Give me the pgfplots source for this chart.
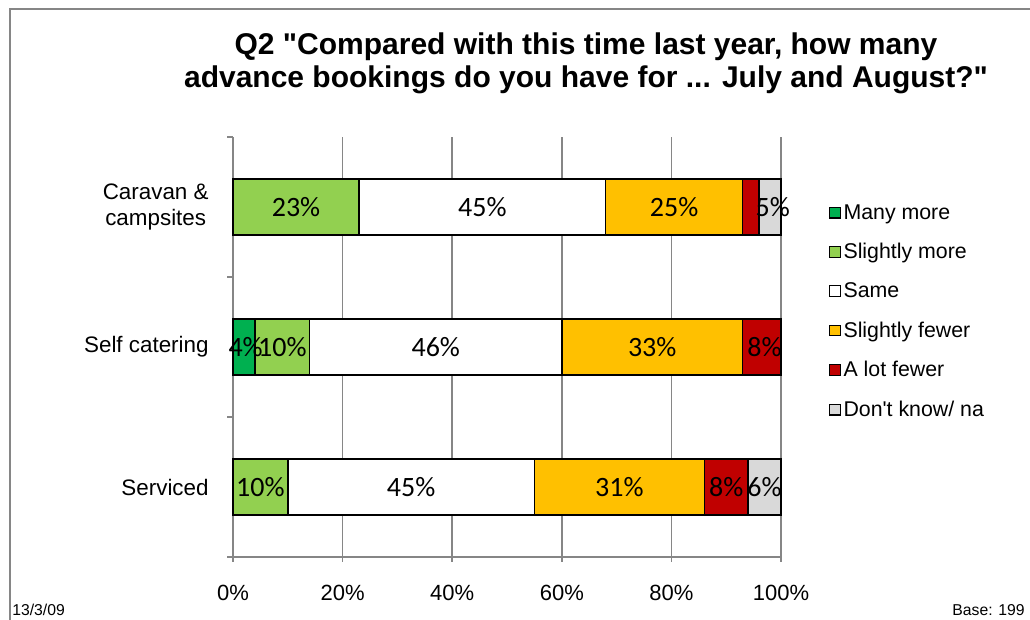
\documentclass[border=0pt]{standalone}
\usepackage{fontspec}
\setmainfont{Liberation Sans}[Ligatures=TeXOff]
\newfontfamily\calibri{Carlito}
\usepackage{pgfplots}
\pgfplotsset{compat=1.18}
\definecolor{manymore}{RGB}{0,176,80}
\definecolor{slmore}{RGB}{146,208,80}
\definecolor{slfewer}{RGB}{255,192,0}
\definecolor{lotfewer}{RGB}{192,0,0}
\definecolor{dkna}{RGB}{217,217,217}
\definecolor{axgray}{RGB}{134,134,134}
\begin{document}
\begin{tikzpicture}
\useasboundingbox (0,0) rectangle (772.5pt,465pt);
\draw[axgray, line width=1pt] (7.5pt,0) -- (7.5pt,458.25pt) -- (772.5pt,458.25pt);
\node[font=\bfseries\fontsize{22.5}{24.75}\selectfont, align=center] at (439.5pt,417.75pt)
 {Q2 "Compared with this time last year, how many\\advance bookings do you have for ... July and August?"};
\node[anchor=base west, inner sep=0pt, font=\fontsize{11.8}{13}\selectfont] at (9pt,3pt) {13/3/09};
\node[anchor=base east, inner sep=0pt, font=\fontsize{11.8}{13}\selectfont] at (768.75pt,3pt) {Base: 199};
\begin{axis}[
 at={(174.75pt,47.25pt)}, anchor=south west,
 scale only axis, width=411pt, height=315pt,
 xbar stacked, bar width=0.4, clip=false,
 xmin=0, xmax=100, ymin=-0.5, ymax=2.5,
 axis x line*=bottom, axis y line*=left,
 axis line style={axgray, line width=2pt, -},
 tick align=outside,
 xtick={0,20,40,60,80,100},
 xticklabels={0\%,20\%,40\%,60\%,80\%,100\%},
 xticklabel style={font=\fontsize{16.5}{19}\selectfont, yshift=-14pt},
 major tick length=3.75pt, minor tick length=4.5pt,
 xtick style={axgray, line width=1.3pt},
 ytick={0,1,2},
 yticklabels={Serviced,Self catering,{Caravan \&\\campsites}},
 yticklabel style={align=center, font=\fontsize{16.8}{19}\selectfont, xshift=-11pt},
 minor ytick={-0.5,0.5,1.5,2.5},
 major y tick style={draw=none},
 minor y tick style={axgray, line width=1.3pt},
 xmajorgrids, grid style={axgray, line width=1.3pt},
 every axis plot/.append style={draw=black, line width=1.1pt},
 legend cell align=left,
 legend style={draw=none, fill=none, font=\fontsize{16}{19}\selectfont, row sep=12.6pt,
   at={(axis description cs:1.08,0.853)}, anchor=north west},
 legend image code/.code={\draw[#1, draw=black, line width=0.8pt] (0pt,-4pt) rectangle (8pt,4pt);},
]
\addplot[fill=manymore] coordinates {(0,0) (4,1) (0,2)};
\addplot[fill=slmore] coordinates {(10,0) (10,1) (23,2)};
\addplot[fill=white] coordinates {(45,0) (46,1) (45,2)};
\addplot[fill=slfewer] coordinates {(31,0) (33,1) (25,2)};
\addplot[fill=lotfewer] coordinates {(8,0) (7,1) (3,2)};
\addplot[fill=dkna] coordinates {(6,0) (0,1) (4,2)};
\legend{Many more,Slightly more,Same,Slightly fewer,A lot fewer,Don't know/ na}
\end{axis}
\begin{axis}[
 at={(174.75pt,47.25pt)}, anchor=south west,
 scale only axis, width=411pt, height=315pt,
 xmin=0, xmax=100, ymin=-0.5, ymax=2.5, hide axis, clip=false,
]
\addplot[draw=none, mark=none, nodes near coords, point meta=explicit symbolic,
 nodes near coords align=center,
 every node near coord/.append style={font=\calibri\fontsize{21}{23}\selectfont, anchor=center}]
 coordinates {
 (11.5,2) [23\%] (45.5,2) [45\%] (80.5,2) [25\%] (98.5,2) [5\%]
 (2.3,1) [4\%] (9,1) [10\%] (37,1) [46\%] (76.5,1) [33\%] (97,1) [8\%]
 (5,0) [10\%] (32.5,0) [45\%] (70.5,0) [31\%] (90,0) [8\%] (97,0) [6\%]
 };
\end{axis}
\end{tikzpicture}
\end{document}
